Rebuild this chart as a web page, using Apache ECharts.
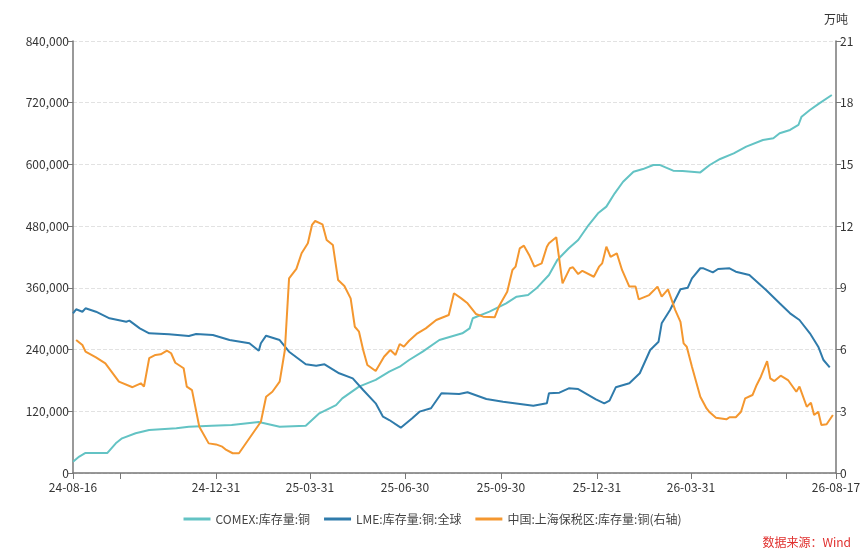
<!DOCTYPE html>
<html>
<head>
<meta charset="utf-8">
<script src="https://cdn.jsdelivr.net/npm/echarts@6/dist/echarts.min.js"></script>
<style>
  html, body { margin: 0; padding: 0; background: #fff; }
  #chart { width: 865px; height: 554px; }
</style>
</head>
<body>
<div id="chart"></div>
<script>
// series names (legend)
const seriesNames = ['COMEX:库存量:铜', 'LME:库存量:铜:全球', '中国:上海保税区:库存量:铜(右轴)'];

// x axis range and ticks
const xMin = '2024-08-16';
const xMax = '2026-08-17';
const tickDates = ['2024-08-16', '2024-09-30', '2024-12-31', '2025-03-31', '2025-06-30',
  '2025-09-30', '2025-12-31', '2026-03-31', '2026-06-30', '2026-08-17'];
const labelDates = ['2024-08-16', '2024-12-31', '2025-03-31', '2025-06-30',
  '2025-09-30', '2025-12-31', '2026-03-31', '2026-08-17'];

// COMEX inventory, tonnes (left axis)
const comexData = [
  ['2024-08-16', 22000], ['2024-08-22', 32000], ['2024-08-28', 39000], ['2024-09-18', 39000],
  ['2024-09-26', 57700], ['2024-10-02', 67400], ['2024-10-15', 77200], ['2024-10-28', 83600],
  ['2024-11-23', 86900], ['2024-12-05', 90000], ['2024-12-27', 92000], ['2025-01-15', 93500],
  ['2025-02-10', 99000], ['2025-03-02', 90000], ['2025-03-27', 92000], ['2025-04-09', 116000],
  ['2025-04-25', 132000], ['2025-05-01', 145000], ['2025-05-17', 168000], ['2025-06-02', 181000],
  ['2025-06-15', 197000], ['2025-06-25', 206700], ['2025-07-04', 219700], ['2025-07-17', 235900],
  ['2025-08-02', 258600], ['2025-08-24', 271600], ['2025-08-31', 281300], ['2025-09-03', 300800],
  ['2025-09-19', 313700], ['2025-10-05', 330000], ['2025-10-15', 342800], ['2025-10-26', 346100],
  ['2025-11-03', 359100], ['2025-11-15', 385000], ['2025-11-23', 414200], ['2025-12-04', 436900],
  ['2025-12-13', 453000], ['2025-12-23', 482200], ['2026-01-01', 505000], ['2026-01-09', 518000],
  ['2026-01-17', 543800], ['2026-01-25', 566400], ['2026-02-04', 585800], ['2026-02-13', 591000],
  ['2026-02-23', 598900], ['2026-03-01', 599000], ['2026-03-14', 587800], ['2026-03-23', 587200],
  ['2026-04-09', 584500], ['2026-04-18', 598900], ['2026-04-28', 610600], ['2026-05-11', 621600],
  ['2026-05-23', 634500], ['2026-06-08', 647500], ['2026-06-18', 650800], ['2026-06-24', 660500],
  ['2026-07-04', 667000], ['2026-07-12', 676700], ['2026-07-15', 692800], ['2026-07-23', 705800],
  ['2026-08-01', 718800], ['2026-08-13', 735000]
];

// LME global inventory, tonnes (left axis)
const lmeData = [
  ['2024-08-16', 310500], ['2024-08-19', 318300], ['2024-08-25', 313600], ['2024-08-28', 320200],
  ['2024-09-07', 313600], ['2024-09-20', 300800], ['2024-10-06', 294200], ['2024-10-09', 296200],
  ['2024-10-19', 281300], ['2024-10-28', 271600], ['2024-11-16', 269700], ['2024-12-05', 266400],
  ['2024-12-12', 270300], ['2024-12-28', 268300], ['2025-01-13', 258600], ['2025-02-01', 252200],
  ['2025-02-10', 237800], ['2025-02-12', 252200], ['2025-02-17', 267000], ['2025-03-02', 258600],
  ['2025-03-11', 235900], ['2025-03-27', 211400], ['2025-04-06', 208600], ['2025-04-14', 211400],
  ['2025-04-28', 193900], ['2025-05-11', 184100], ['2025-05-21', 161400], ['2025-06-02', 135500],
  ['2025-06-09', 109500], ['2025-06-15', 103000], ['2025-06-26', 88100], ['2025-07-07', 106300],
  ['2025-07-14', 119300], ['2025-07-25', 125800], ['2025-08-04', 155000], ['2025-08-21', 153600],
  ['2025-08-29', 156900], ['2025-09-16', 143900], ['2025-10-02', 138700], ['2025-10-31', 130900],
  ['2025-11-13', 135500], ['2025-11-15', 155000], ['2025-11-25', 156100], ['2025-12-04', 164700],
  ['2025-12-13', 163300], ['2025-12-30', 143300], ['2026-01-07', 135500], ['2026-01-12', 140600],
  ['2026-01-18', 166600], ['2026-01-31', 174400], ['2026-02-10', 193900], ['2026-02-20', 239200],
  ['2026-02-28', 255300], ['2026-03-03', 291000], ['2026-03-11', 317000], ['2026-03-21', 357200],
  ['2026-03-28', 360300], ['2026-04-01', 378600], ['2026-04-09', 398100], ['2026-04-12', 398000],
  ['2026-04-21', 390200], ['2026-04-26', 396700], ['2026-05-07', 398000], ['2026-05-13', 391400],
  ['2026-05-26', 385000], ['2026-06-11', 355800], ['2026-06-24', 329900], ['2026-07-04', 310500],
  ['2026-07-13', 297500], ['2026-07-23', 271600], ['2026-07-31', 245600], ['2026-08-05', 219700],
  ['2026-08-11', 205500]
];

// Shanghai bonded zone inventory, 万吨 (right axis)
const bondedData = [
  ['2024-08-19', 6.47], ['2024-08-25', 6.22], ['2024-08-28', 5.90], ['2024-09-07', 5.62],
  ['2024-09-16', 5.33], ['2024-09-29', 4.44], ['2024-10-12', 4.17], ['2024-10-20', 4.36],
  ['2024-10-23', 4.20], ['2024-10-28', 5.58], ['2024-11-03', 5.74], ['2024-11-08', 5.77],
  ['2024-11-14', 5.95], ['2024-11-18', 5.82], ['2024-11-22', 5.36], ['2024-11-30', 5.09],
  ['2024-12-03', 4.20], ['2024-12-08', 4.03], ['2024-12-15', 2.25], ['2024-12-24', 1.44],
  ['2024-12-31', 1.39], ['2025-01-06', 1.28], ['2025-01-09', 1.15], ['2025-01-16', 0.96],
  ['2025-01-22', 0.96], ['2025-02-12', 2.49], ['2025-02-17', 3.71], ['2025-02-23', 3.95],
  ['2025-03-02', 4.44], ['2025-03-07', 5.98], ['2025-03-11', 9.46], ['2025-03-18', 9.92],
  ['2025-03-23', 10.68], ['2025-03-29', 11.17], ['2025-04-02', 12.06], ['2025-04-05', 12.25],
  ['2025-04-12', 12.09], ['2025-04-16', 11.33], ['2025-04-22', 11.08], ['2025-04-27', 9.38],
  ['2025-05-03', 9.09], ['2025-05-09', 8.49], ['2025-05-13', 7.11], ['2025-05-17', 6.87],
  ['2025-05-21', 5.98], ['2025-05-25', 5.25], ['2025-06-02', 4.96], ['2025-06-10', 5.65],
  ['2025-06-16', 5.98], ['2025-06-21', 5.74], ['2025-06-25', 6.27], ['2025-06-29', 6.14],
  ['2025-07-04', 6.43], ['2025-07-12', 6.79], ['2025-07-20', 7.03], ['2025-07-30', 7.44],
  ['2025-08-11', 7.68], ['2025-08-16', 8.74], ['2025-08-23', 8.49], ['2025-08-29', 8.25],
  ['2025-09-06', 7.73], ['2025-09-13', 7.60], ['2025-09-24', 7.57], ['2025-09-28', 8.09],
  ['2025-10-06', 8.81], ['2025-10-11', 9.87], ['2025-10-14', 10.03], ['2025-10-18', 10.92],
  ['2025-10-22', 11.05], ['2025-10-27', 10.60], ['2025-11-01', 10.03], ['2025-11-08', 10.19],
  ['2025-11-13', 11.00], ['2025-11-15', 11.17], ['2025-11-22', 11.46], ['2025-11-28', 9.22],
  ['2025-12-05', 9.95], ['2025-12-08', 10.00], ['2025-12-13', 9.67], ['2025-12-17', 9.83],
  ['2025-12-28', 9.54], ['2026-01-02', 10.03], ['2026-01-05', 10.19], ['2026-01-09', 11.00],
  ['2026-01-13', 10.51], ['2026-01-19', 10.68], ['2026-01-24', 9.87], ['2026-01-31', 9.06],
  ['2026-02-06', 9.06], ['2026-02-09', 8.44], ['2026-02-19', 8.65], ['2026-02-27', 9.06],
  ['2026-03-03', 8.57], ['2026-03-09', 8.93], ['2026-03-16', 7.92], ['2026-03-21', 7.35],
  ['2026-03-24', 6.30], ['2026-03-27', 6.14], ['2026-04-01', 5.17], ['2026-04-09', 3.71],
  ['2026-04-15', 3.14], ['2026-04-18', 2.95], ['2026-04-24', 2.69], ['2026-05-04', 2.61],
  ['2026-05-07', 2.71], ['2026-05-13', 2.71], ['2026-05-18', 2.98], ['2026-05-22', 3.63],
  ['2026-05-29', 3.79], ['2026-06-02', 4.28], ['2026-06-06', 4.68], ['2026-06-12', 5.44],
  ['2026-06-15', 4.60], ['2026-06-19', 4.47], ['2026-06-25', 4.73], ['2026-07-02', 4.52],
  ['2026-07-10', 3.95], ['2026-07-13', 4.20], ['2026-07-20', 3.22], ['2026-07-24', 3.42],
  ['2026-07-27', 2.82], ['2026-07-31', 2.98], ['2026-08-03', 2.33], ['2026-08-08', 2.37],
  ['2026-08-14', 2.82]
];

// local-time timestamp from 'YYYY-MM-DD'
function toTime(s) {
  const p = s.split('-').map(Number);
  return new Date(p[0], p[1] - 1, p[2]).getTime();
}
function pad(n) { return n < 10 ? '0' + n : '' + n; }
function fmtDate(t) {
  const d = new Date(t);
  return pad(d.getFullYear() % 100) + '-' + pad(d.getMonth() + 1) + '-' + pad(d.getDate());
}
const toPoints = arr => arr.map(d => [toTime(d[0]), d[1]]);

const chart = echarts.init(document.getElementById('chart'));

const fontFamily = '"Microsoft YaHei","Noto Sans CJK SC","Noto Sans",sans-serif';
const axisColor = '#777';
const labelColor = '#333';

const seriesShared = {
  type: 'line',
  symbol: 'none',
  smooth: false,
  lineStyle: { width: 2 }
};

const option = {
  animation: false,
  textStyle: { fontFamily },
  color: ['#63c3c4', '#2f7bab', '#f4972f'],
  grid: { left: 73, right: 29, top: 41, bottom: 81 },
  legend: {
    bottom: 24,
    left: 'center',
    icon: 'rect',
    itemWidth: 27,
    itemHeight: 3,
    itemGap: 14,
    textStyle: { fontSize: 12, color: '#444', fontFamily }
  },
  graphic: [{
    type: 'text',
    right: 14,
    bottom: 6,
    style: { text: '数据来源：Wind', fill: '#e0302e', fontSize: 12, fontFamily }
  }],
  xAxis: {
    // timestamps on a value axis so ticks can sit on quarter ends
    type: 'value',
    min: toTime(xMin),
    max: toTime(xMax),
    splitLine: { show: false },
    axisLine: { lineStyle: { color: axisColor, width: 1.5 } },
    axisTick: {
      show: true,
      length: 6,
      lineStyle: { color: axisColor },
      customValues: tickDates.map(toTime)
    },
    axisLabel: {
      color: labelColor,
      fontSize: 12,
      margin: 8,
      customValues: labelDates.map(toTime),
      formatter: v => fmtDate(v)
    }
  },
  yAxis: [
    {
      type: 'value',
      min: 0,
      max: 840000,
      interval: 120000,
      axisLine: { show: true, lineStyle: { color: axisColor, width: 1.5 } },
      axisTick: { show: true, length: 5, lineStyle: { color: axisColor } },
      axisLabel: {
        color: labelColor,
        fontSize: 12,
        margin: 4,
        formatter: v => v.toLocaleString('en-US')
      },
      splitLine: { lineStyle: { color: '#e2e2e2', type: 'dashed' } }
    },
    {
      type: 'value',
      min: 0,
      max: 21,
      interval: 3,
      name: '万吨',
      nameGap: 16,
      nameTextStyle: { color: labelColor, fontSize: 12, align: 'center' },
      position: 'right',
      axisLine: { show: true, lineStyle: { color: axisColor, width: 1.5 } },
      axisTick: { show: true, length: 5, lineStyle: { color: axisColor } },
      axisLabel: { color: labelColor, fontSize: 12, margin: 4 },
      splitLine: { show: false }
    }
  ],
  series: [
    { ...seriesShared, name: seriesNames[0], yAxisIndex: 0, data: toPoints(comexData) },
    { ...seriesShared, name: seriesNames[1], yAxisIndex: 0, data: toPoints(lmeData) },
    { ...seriesShared, name: seriesNames[2], yAxisIndex: 1, data: toPoints(bondedData) }
  ]
};

chart.setOption(option);
</script>
</body>
</html>
